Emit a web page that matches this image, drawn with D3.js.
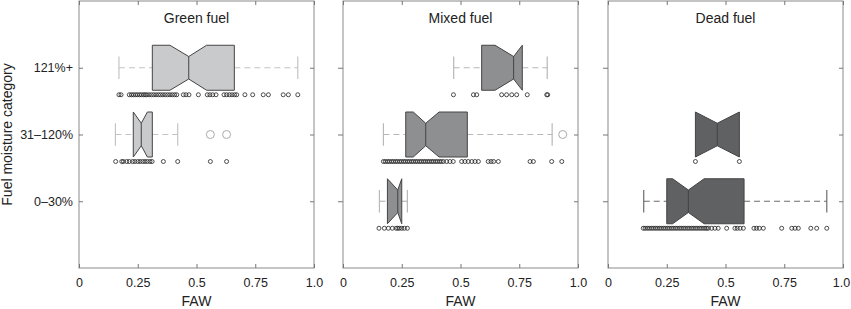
<!DOCTYPE html>
<html><head><meta charset="utf-8">
<script src="https://cdn.jsdelivr.net/npm/d3@7"></script>
<style>body{margin:0;background:#fff;} svg{display:block;font-family:"Liberation Sans",Arial,sans-serif;}</style>
</head><body>
<script>
const panels = ["Green fuel", "Mixed fuel", "Dead fuel"];
const categories = ["121%+", "31–120%", "0–30%"];
const xTicks = [0, 0.25, 0.5, 0.75, 1.0];
const xTickLabels = ["0", "0.25", "0.5", "0.75", "1.0"];

// per panel, per category (121%+, 31–120%, 0–30%); null = no box
const q1       = [[0.312, 0.231, null], [0.590, 0.267, 0.189], [null, 0.372, 0.250]];
const median   = [[0.467, 0.265, null], [0.726, 0.352, 0.233], [null, 0.465, 0.342]];
const q3       = [[0.661, 0.312, null], [0.763, 0.529, 0.250], [null, 0.559, 0.579]];
const notchLo  = [[0.387, 0.231, null], [0.647, 0.299, 0.189], [null, 0.372, 0.275]];
const notchHi  = [[0.543, 0.291, null], [0.763, 0.409, 0.250], [null, 0.559, 0.409]];
const whiskLo  = [[0.170, 0.155, null], [0.471, 0.172, 0.155], [null, 0.372, 0.152]];
const whiskHi  = [[0.931, 0.420, null], [0.869, 0.890, 0.274], [null, 0.559, 0.931]];
const outliers = [[[], [0.559, 0.628], []], [[], [0.935], []], [[], [], []]];

const rugGreen121 = [0.170,0.179,0.214,0.223,0.231,0.240,0.248,0.257,0.265,0.274,0.281,0.288,0.298,0.308,0.318,0.328,0.338,0.347,0.357,0.367,0.377,0.387,0.397,0.407,0.416,0.444,0.455,0.468,0.508,0.546,0.557,0.569,0.583,0.617,0.628,0.640,0.651,0.662,0.671,0.706,0.739,0.784,0.806,0.869,0.891,0.931];
const rugGreen31 = [0.156,0.182,0.189,0.203,0.214,0.228,0.238,0.250,0.260,0.271,0.281,0.291,0.302,0.311,0.359,0.420,0.559,0.628];
const rugMixed121 = [0.470,0.555,0.569,0.675,0.696,0.718,0.739,0.784,0.867,0.871];
const rugMixed31 = [0.172,0.180,0.189,0.197,0.206,0.214,0.223,0.231,0.240,0.248,0.257,0.265,0.274,0.282,0.291,0.299,0.308,0.316,0.325,0.333,0.342,0.350,0.359,0.367,0.376,0.384,0.393,0.401,0.410,0.418,0.427,0.441,0.455,0.469,0.505,0.519,0.533,0.548,0.562,0.576,0.618,0.630,0.641,0.661,0.796,0.810,0.888,0.931];
const rugMixed0 = [0.153,0.176,0.193,0.210,0.226,0.233,0.240,0.250,0.261,0.274];
const rugDead31 = [0.372,0.559];
const rugDead0 = [0.150,0.158,0.167,0.175,0.184,0.192,0.201,0.209,0.218,0.226,0.235,0.243,0.252,0.260,0.269,0.277,0.286,0.294,0.303,0.311,0.320,0.328,0.337,0.345,0.354,0.362,0.371,0.379,0.388,0.396,0.405,0.413,0.420,0.427,0.441,0.455,0.469,0.505,0.540,0.550,0.562,0.576,0.621,0.632,0.644,0.661,0.739,0.782,0.796,0.810,0.863,0.888,0.931];
const rugs = [[rugGreen121, rugGreen31, []], [rugMixed121, rugMixed31, rugMixed0], [[], rugDead31, rugDead0]];

const fills = ["#c9cacc", "#8e8f91", "#606163"];
const whiskColors = ["#c4c4c4", "#b8b8b8", "#6c6c6c"];

const W = 851, H = 309;
const panelLeft = [79, 343, 608];
const panelW = 235, plotTop = 1, plotBottom = 268;
const boxH = 45;

const svg = d3.select("body").append("svg").attr("width", W).attr("height", H);

const y = d3.scalePoint().domain(categories).range([plotTop, plotBottom]).padding(1);

panels.forEach((name, p) => {
  const x = d3.scaleLinear().domain([0, 1]).range([panelLeft[p], panelLeft[p] + panelW]);
  const g = svg.append("g");

  g.append("rect").attr("x", x(0)).attr("y", plotTop).attr("width", panelW).attr("height", plotBottom - plotTop)
    .attr("fill", "none").attr("stroke", "#8a8a8a").attr("stroke-width", 1);

  const ax = g.append("g").attr("transform", `translate(0,${plotBottom})`)
    .call(d3.axisBottom(x).tickValues(xTicks).tickFormat((d, i) => xTickLabels[i]).tickSizeInner(-4).tickSizeOuter(0).tickPadding(10));
  ax.select(".domain").remove();
  ax.selectAll("line").attr("stroke", "#777");
  ax.selectAll("text").attr("font-size", "12.5px").attr("fill", "#222")
    .attr("font-family", "Liberation Sans, Arial, sans-serif");
  if (p === panels.length - 1) {
    ax.selectAll("text").filter(d => d === 1).attr("dx", "-2");
  }

  g.append("g").attr("transform", `translate(0,${plotTop})`)
    .call(d3.axisTop(x).tickValues(xTicks).tickFormat("").tickSizeInner(-4).tickSizeOuter(0))
    .call(s => { s.select(".domain").remove(); s.selectAll("line").attr("stroke", "#777"); });

  const ay = g.append("g").attr("transform", `translate(${x(0)},0)`)
    .call(d3.axisLeft(y).tickSizeInner(p === 0 ? -4 : 5).tickSizeOuter(0).tickPadding(6).tickFormat(p === 0 ? (d => d) : ""));
  ay.select(".domain").remove();
  ay.selectAll("line").attr("stroke", "#777");
  ay.selectAll("text").attr("font-size", "12.5px").attr("fill", "#222")
    .attr("font-family", "Liberation Sans, Arial, sans-serif");

  g.append("g").attr("transform", `translate(${x(1)},0)`)
    .call(d3.axisRight(y).tickSizeInner(-4).tickSizeOuter(0).tickFormat(""))
    .call(s => { s.select(".domain").remove(); s.selectAll("line").attr("stroke", "#777"); });

  g.append("text").attr("x", x(0.5)).attr("y", 23).attr("text-anchor", "middle")
    .attr("font-size", "14px").attr("fill", "#222").text(name);

  g.append("text").attr("x", x(0.5)).attr("y", 306).attr("text-anchor", "middle")
    .attr("font-size", "14px").attr("fill", "#222").text("FAW");

  categories.forEach((cat, c) => {
    const cy = y(cat);
    g.append("g").selectAll("circle").data(rugs[p][c]).join("circle")
      .attr("cx", d => x(d)).attr("cy", cy + 27).attr("r", 2)
      .attr("fill", "none").attr("stroke", "#222").attr("stroke-width", 0.8);

    if (q1[p][c] === null) return;
    const t = cy - boxH / 2, b = cy + boxH / 2;
    const wc = whiskColors[p];
    if (whiskLo[p][c] < q1[p][c]) {
      g.append("line").attr("x1", x(whiskLo[p][c])).attr("x2", x(q1[p][c])).attr("y1", cy).attr("y2", cy)
        .attr("stroke", wc).attr("stroke-width", 1.2).attr("stroke-dasharray", "6,4");
      g.append("line").attr("x1", x(whiskLo[p][c])).attr("x2", x(whiskLo[p][c])).attr("y1", cy - boxH / 4).attr("y2", cy + boxH / 4)
        .attr("stroke", wc).attr("stroke-width", 1.2);
    }
    if (whiskHi[p][c] > q3[p][c]) {
      g.append("line").attr("x1", x(q3[p][c])).attr("x2", x(whiskHi[p][c])).attr("y1", cy).attr("y2", cy)
        .attr("stroke", wc).attr("stroke-width", 1.2).attr("stroke-dasharray", "6,4");
      g.append("line").attr("x1", x(whiskHi[p][c])).attr("x2", x(whiskHi[p][c])).attr("y1", cy - boxH / 4).attr("y2", cy + boxH / 4)
        .attr("stroke", wc).attr("stroke-width", 1.2);
    }
    const pts = [
      [q1[p][c], t], [notchLo[p][c], t], [median[p][c], cy - boxH / 4], [notchHi[p][c], t], [q3[p][c], t],
      [q3[p][c], b], [notchHi[p][c], b], [median[p][c], cy + boxH / 4], [notchLo[p][c], b], [q1[p][c], b]
    ];
    g.append("path").attr("d", d3.line().x(d => x(d[0])).y(d => d[1])(pts) + "Z")
      .attr("fill", fills[p]).attr("stroke", "#444").attr("stroke-width", 1);
    g.append("line").attr("x1", x(median[p][c])).attr("x2", x(median[p][c]))
      .attr("y1", cy - boxH / 4).attr("y2", cy + boxH / 4).attr("stroke", "#444").attr("stroke-width", 1);
    g.append("g").selectAll("circle").data(outliers[p][c]).join("circle")
      .attr("cx", d => x(d)).attr("cy", cy).attr("r", 4)
      .attr("fill", "none").attr("stroke", "#aaa").attr("stroke-width", 1);
  });
});

svg.append("text").attr("transform", `translate(12,${(plotTop + plotBottom) / 2}) rotate(-90)`)
  .attr("text-anchor", "middle").attr("font-size", "14px").attr("fill", "#222").text("Fuel moisture category");
</script>
</body></html>
